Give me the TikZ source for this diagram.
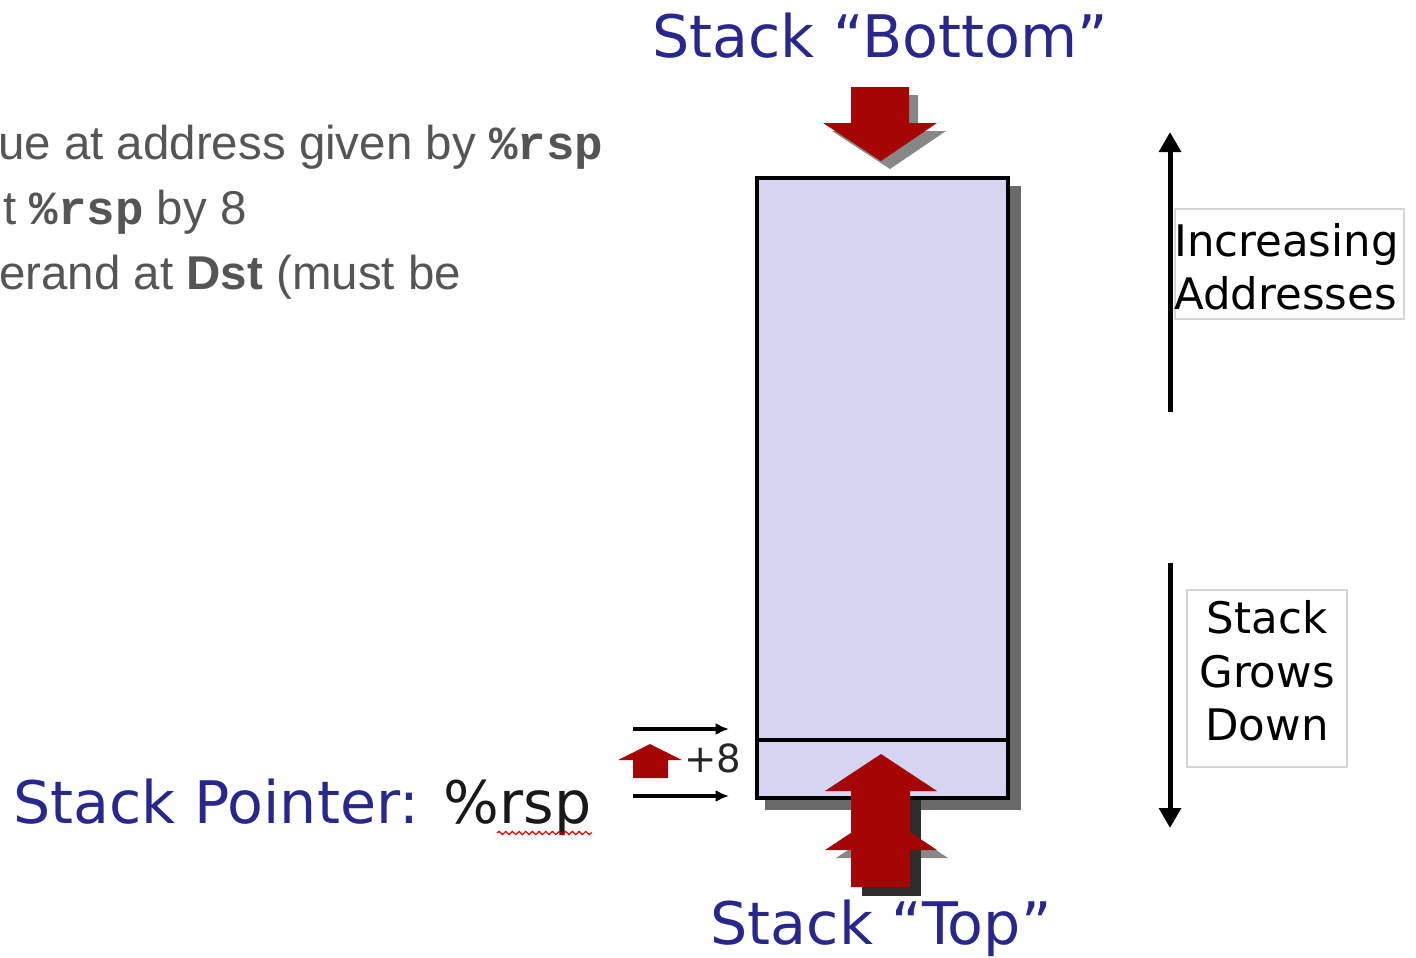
\documentclass[tikz,border=0pt]{standalone}
\usepackage{fontspec}
\setmainfont{Liberation Sans}
\newfontfamily\dv{DejaVu Sans}
\newfontfamily\cmono{Liberation Mono}
\usetikzlibrary{arrows.meta,decorations.pathmorphing}
\definecolor{titleblue}{RGB}{40,40,140}
\definecolor{stackfill}{RGB}{213,213,242}
\definecolor{arrred}{RGB}{165,5,5}
\definecolor{shadowgray}{RGB}{135,135,135}
\definecolor{rectshadow}{RGB}{105,105,105}
\definecolor{darkshadow}{RGB}{45,45,45}
\definecolor{bodygray}{RGB}{85,85,85}
\definecolor{boxgray}{RGB}{212,212,212}
\begin{document}
\begin{tikzpicture}[x=0.75pt,y=-0.75pt,
  title/.style={font=\dv\fontsize{44}{50}\selectfont, text=titleblue, inner sep=0pt},
  sidelabel/.style={font=\dv\fontsize{32.6}{39}\selectfont, text=black, inner sep=0pt},
  body/.style={font=\fontsize{35.6}{42}\selectfont, text=bodygray, inner sep=0pt, anchor=base west},
  redblock/.style={fill=arrred, draw=none},
  shadowblock/.style={fill=shadowgray, draw=none},
  bigarrow/.style={line width=3.75pt, -{Triangle[length=15pt,width=16pt]}},
  smallarrow/.style={line width=2.6pt, -{Latex[length=10pt,width=9pt]}},
  labelbox/.style={draw=boxgray, line width=0.8pt, fill=white},
  stackbox/.style={draw=black, fill=stackfill, line width=2.8pt, inner sep=0pt, outer sep=0pt,
                   minimum width=188.25pt, minimum height=465pt}
]
\useasboundingbox (0,0) rectangle (1416,957);

% left body text (clipped at the left margin)
\node[body] (l1) at (-2,159) {ue at address given by {\cmono\bfseries\%rsp}};
\node[body] (l2) at (3,224) {t {\cmono\bfseries\%rsp} by 8};
\node[body] (l3) at (-1,289) {erand at \textbf{Dst} (must be};

% titles
\node[title, anchor=base] (bottom) at (880,57) {Stack “Bottom”};
\node[title, anchor=base] (top) at (881,944) {Stack “Top”};
\node[title, anchor=base west] (sp) at (13,823) {Stack Pointer: \textcolor{black!90}{\%rsp}};
\draw[red!85!black, line width=0.9pt, decorate,
      decoration={snake, amplitude=1.2pt, segment length=5pt}] (497,833) -- (592,833);

% stack rectangle with shadow
\fill[rectshadow] (765,186) rectangle (1021,810);
\node[stackbox] (stack) at (882.5,488) {};
\coordinate (divL) at (757,740);
\coordinate (divR) at (1008,740);
\draw[line width=2.4pt] (divL) -- (divR);

% top block arrow (down)
\fill[shadowblock] (860,95) -- (918,95) -- (918,131) -- (946,131) -- (890,169) -- (832,131) -- (860,131) -- cycle;
\fill[redblock] (851,87) -- (909,87) -- (909,123) -- (937,123) -- (881,161) -- (823,123) -- (851,123) -- cycle;

% bottom block arrows (up)
\fill[shadowblock] (836,858) -- (892,821) -- (948,858) -- cycle;
\fill[darkshadow] (862,800) rectangle (921,896);
\fill[redblock] (825,850) -- (881,813) -- (937,850) -- cycle;
\fill[redblock] (851,887) -- (851,791) -- (825,791) -- (881,754) -- (937,791) -- (910,791) -- (910,887) -- cycle;

% small pointer arrows and +8
\coordinate (p1s) at (633,729);
\coordinate (p1e) at (729,729);
\coordinate (p2s) at (633,796);
\coordinate (p2e) at (729,796);
\draw[smallarrow] (p1s) -- (p1e);
\draw[smallarrow] (p2s) -- (p2e);
\fill[redblock] (633,778) -- (633,760) -- (618,760) -- (650,744) -- (682,760) -- (668,760) -- (668,778) -- cycle;
\node[font=\dv\fontsize{29}{33}\selectfont, text=black!85, inner sep=0pt, anchor=base west] (plus8) at (684,772) {+8};

% right side arrows
\coordinate (incS) at (1170,412);
\coordinate (incE) at (1170,132);
\draw[bigarrow] (incS) -- (incE);
\coordinate (grS) at (1170,563);
\coordinate (grE) at (1170,828);
\draw[bigarrow] (grS) -- (grE);

% label boxes
\draw[labelbox] (1175,209) rectangle (1404,319);
\node[sidelabel, anchor=base west] (inc1) at (1174,256) {Increasing};
\node[sidelabel, anchor=base west] (inc2) at (1174,309) {Addresses};

\draw[labelbox] (1187,590) rectangle (1347,767);
\node[sidelabel, anchor=base] (sg1) at (1267,633) {Stack};
\node[sidelabel, anchor=base] (sg2) at (1267,687) {Grows};
\node[sidelabel, anchor=base] (sg3) at (1267,740) {Down};
\end{tikzpicture}
\end{document}
